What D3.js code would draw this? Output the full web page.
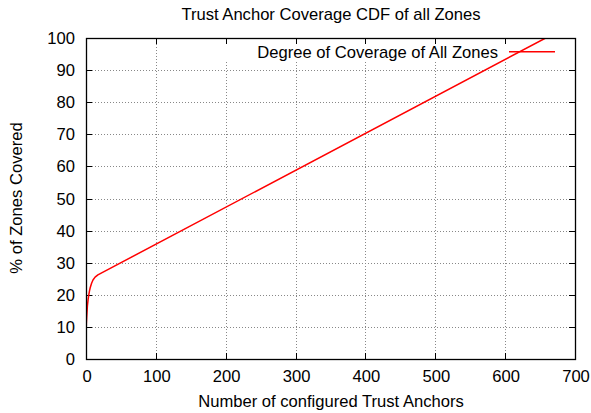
<!DOCTYPE html>
<html>
<head>
<meta charset="utf-8">
<script src="https://cdn.jsdelivr.net/npm/d3@7"></script>
<style>
  body { margin: 0; background: #fff; }
  text { font-family: "Liberation Sans", Arial, sans-serif; font-size: 16.6px; fill: #000; }
</style>
</head>
<body>
<svg id="chart" width="591" height="413"></svg>
<script>
// values
const anchors  = [0, 0.5, 1, 2, 3, 4, 5, 6, 8, 10, 13, 17, 658]
const coverage = [7.5, 11, 13, 16.5, 18.5, 20, 21.2, 22.2, 23.6, 24.6, 25.5, 26.2, 100]
const xTicks = [0, 100, 200, 300, 400, 500, 600, 700]
const yTicks = [0, 10, 20, 30, 40, 50, 60, 70, 80, 90, 100]

const title = 'Trust Anchor Coverage CDF of all Zones'
const xTitle = 'Number of configured Trust Anchors'
const yTitle = '% of Zones Covered'
const seriesName = 'Degree of Coverage of All Zones'

const m = { left: 86, right: 575, top: 38, bottom: 359 }
const svg = d3.select('#chart')

const x = d3.scaleLinear().domain([0, 700]).range([m.left, m.right])
const y = d3.scaleLinear().domain([0, 100]).range([m.bottom, m.top])

// grid
const grid = svg.append('g').attr('stroke', '#888').attr('stroke-width', 1)
  .attr('stroke-dasharray', '1,2')
grid.selectAll('.gx').data(xTicks.slice(1, -1)).join('line')
  .attr('x1', d => Math.round(x(d)) + 0.5).attr('x2', d => Math.round(x(d)) + 0.5)
  .attr('y1', m.top).attr('y2', m.bottom)
grid.selectAll('.gy').data(yTicks.slice(1, -1)).join('line')
  .attr('y1', d => Math.round(y(d)) + 0.5).attr('y2', d => Math.round(y(d)) + 0.5)
  .attr('x1', m.left).attr('x2', m.right)

// key area hides the grid behind it
svg.append('rect').attr('x', 195).attr('y', m.top + 1)
  .attr('width', m.right - 196).attr('height', 22).attr('fill', '#fff')

// tick marks, inward on all four sides
const tk = svg.append('g').attr('stroke', '#000').attr('stroke-width', 1)
xTicks.forEach(d => {
  const px = Math.round(x(d)) + 0.5
  tk.append('line').attr('x1', px).attr('x2', px).attr('y1', m.bottom).attr('y2', m.bottom - 6)
  tk.append('line').attr('x1', px).attr('x2', px).attr('y1', m.top).attr('y2', m.top + 6)
})
yTicks.forEach(d => {
  const py = Math.round(y(d)) + 0.5
  tk.append('line').attr('y1', py).attr('y2', py).attr('x1', m.left).attr('x2', m.left + 6)
  tk.append('line').attr('y1', py).attr('y2', py).attr('x1', m.right).attr('x2', m.right - 6)
})

// tick labels
svg.append('g').selectAll('text').data(xTicks).join('text')
  .attr('x', d => x(d) + 1).attr('y', 382)
  .attr('text-anchor', 'middle').text(d => d)
svg.append('g').selectAll('text').data(yTicks).join('text')
  .attr('x', 75).attr('y', d => y(d) + 6)
  .attr('text-anchor', 'end').text(d => d)

// the series
svg.append('clipPath').attr('id', 'clip').append('rect')
  .attr('x', m.left).attr('y', m.top).attr('width', m.right - m.left).attr('height', m.bottom - m.top)
const line = d3.line().x((d, i) => x(anchors[i])).y(d => y(d))
svg.append('path').datum(coverage)
  .attr('clip-path', 'url(#clip)')
  .attr('fill', 'none').attr('stroke', '#f00').attr('stroke-width', 1.5)
  .attr('stroke-linejoin', 'round')
  .attr('d', line)

// frame
svg.append('rect').attr('x', m.left + 0.5).attr('y', m.top + 0.5)
  .attr('width', m.right - m.left).attr('height', m.bottom - m.top)
  .attr('fill', 'none').attr('stroke', '#000').attr('stroke-width', 1.3)

// key
svg.append('text').attr('x', 498).attr('y', 57.5).attr('text-anchor', 'end').text(seriesName)
svg.append('line').attr('x1', 509).attr('x2', 555).attr('y1', 51.7).attr('y2', 51.7)
  .attr('stroke', '#f00').attr('stroke-width', 1.5)

// titles
svg.append('text').attr('x', 331).attr('y', 20).attr('text-anchor', 'middle').text(title)
svg.append('text').attr('x', 331).attr('y', 407).attr('text-anchor', 'middle').text(xTitle)
svg.append('text').attr('transform', 'translate(22,198) rotate(-90)')
  .attr('text-anchor', 'middle').text(yTitle)
</script>
</body>
</html>
